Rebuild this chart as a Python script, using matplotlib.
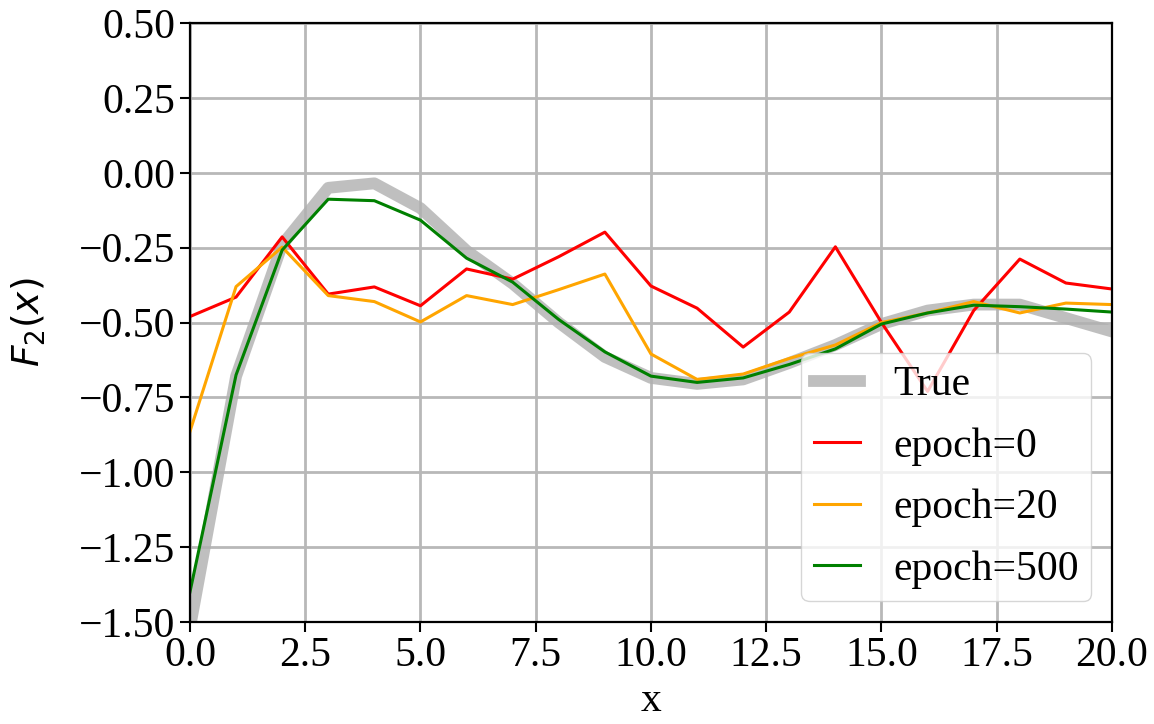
import numpy as np
import matplotlib.pyplot as plt

plt.rcParams['font.family'] = ['Liberation Serif', 'DejaVu Serif']
plt.rcParams['mathtext.fontset'] = 'dejavusans'

x = np.arange(0, 21)

# target function and the network output at a few training epochs
f_true = [-1.52, -0.68, -0.24, -0.05, -0.035, -0.118, -0.26, -0.37, -0.50, -0.615,
          -0.685, -0.705, -0.69, -0.635, -0.575, -0.505, -0.46, -0.44, -0.44, -0.485, -0.53]
f_ep0 = [-0.48, -0.415, -0.214, -0.405, -0.381, -0.444, -0.321, -0.355, -0.28, -0.198,
         -0.378, -0.452, -0.582, -0.465, -0.247, -0.50, -0.73, -0.46, -0.288, -0.368, -0.388]
f_ep20 = [-0.864, -0.38, -0.248, -0.41, -0.43, -0.498, -0.41, -0.44, -0.39, -0.338,
          -0.605, -0.69, -0.672, -0.62, -0.575, -0.50, -0.468, -0.43, -0.468, -0.435, -0.44]
f_ep500 = [-1.40, -0.675, -0.258, -0.088, -0.093, -0.158, -0.285, -0.365, -0.49, -0.598,
           -0.679, -0.70, -0.685, -0.64, -0.588, -0.505, -0.468, -0.442, -0.447, -0.455, -0.465]

fig = plt.figure(figsize=(11.54, 7.24), dpi=100)
ax = fig.add_axes([0.1646, 0.141, 0.799, 0.827])

ax.plot(x, f_true, color='#b0b0b0', lw=8.5, alpha=0.8, label='True')
ax.plot(x, f_ep0, color='red', lw=2.2, label='epoch=0')
ax.plot(x, f_ep20, color='orange', lw=2.2, label='epoch=20')
ax.plot(x, f_ep500, color='green', lw=2.2, label='epoch=500')

ax.set_xlim(0, 20)
ax.set_ylim(-1.5, 0.5)
ax.set_xticks(np.arange(0, 20.1, 2.5))
ax.set_yticks(np.arange(-1.5, 0.51, 0.25))
ax.xaxis.set_major_formatter(plt.FormatStrFormatter('%.1f'))
ax.yaxis.set_major_formatter(plt.FuncFormatter(lambda v, p: f'{v:.2f}'.replace('-', '\u2212')))
ax.tick_params(labelsize=30, width=1.5, length=7)
for s in ax.spines.values():
    s.set_linewidth(1.6)
ax.grid(True, color='#b8b8b8', lw=2)

ax.set_xlabel('x', fontsize=30, labelpad=5)
ax.set_ylabel('$F_2(x)$', fontsize=27, labelpad=22)

ax.legend(loc='lower right', fontsize=30, handlelength=1.1, borderaxespad=0.5,
          borderpad=0.3, labelspacing=0.55)

fig.savefig('out.png')
